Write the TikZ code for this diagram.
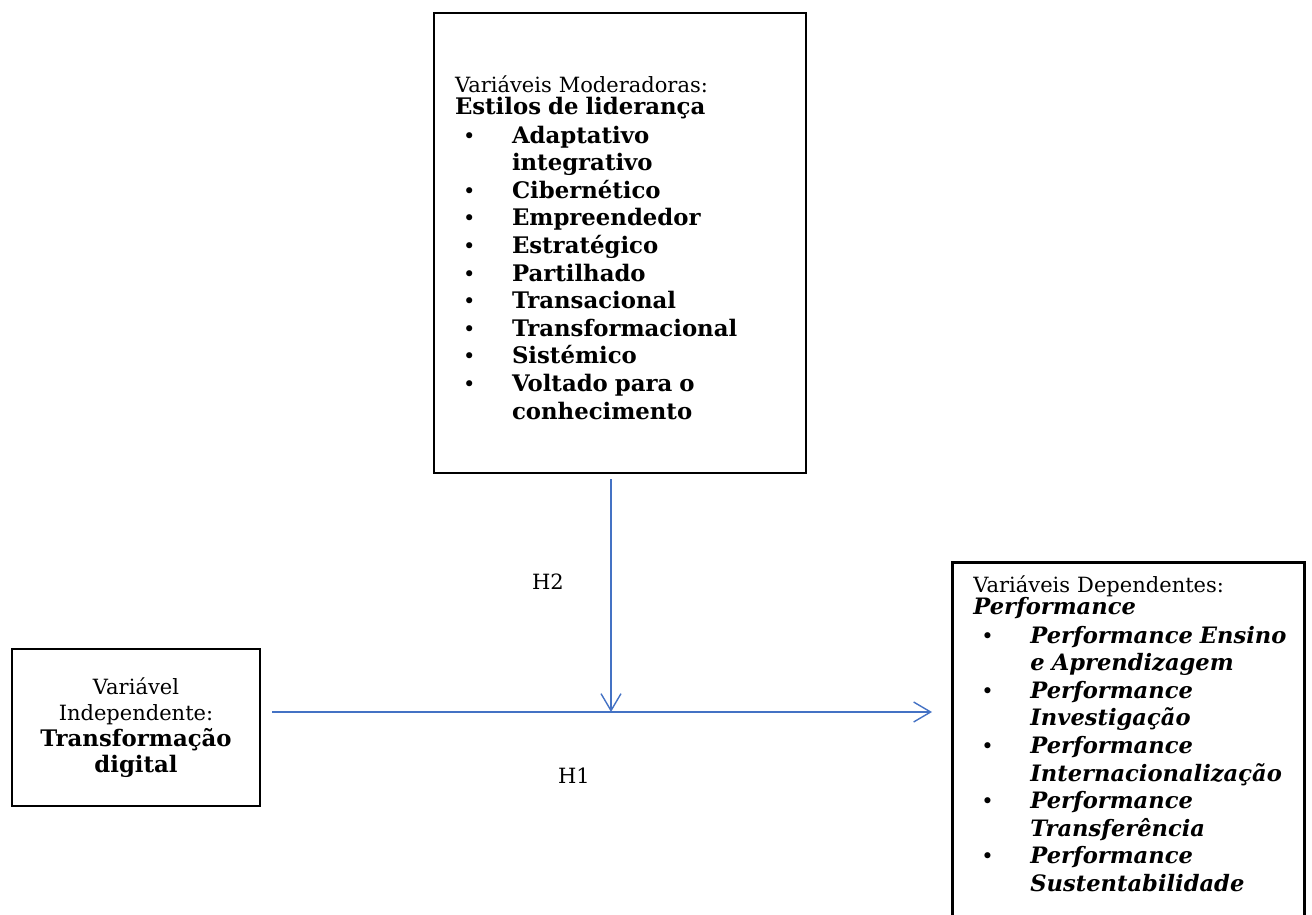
\documentclass[tikz,border=0pt]{standalone}
\usepackage{fontspec}
\setmainfont{DejaVu Serif}
\usetikzlibrary{arrows.meta}

\definecolor{arrowblue}{RGB}{68,114,196}
\newcommand{\itembul}{\makebox[28.5pt][l]{\hspace{4pt}\textbullet}}
\newcommand{\itemcont}{\hspace*{28.5pt}}
\newcommand{\strongtxt}[1]{\mbox{\fontsize{11.4pt}{13.8pt}\selectfont\bfseries #1}}
\newcommand{\strongit}[1]{\mbox{\fontsize{11.3pt}{13.8pt}\selectfont\bfseries\itshape #1}}

\begin{document}
\begin{tikzpicture}[x=0.5pt, y=-0.5pt]

  % Styles
  \tikzset{
    varbox/.style={draw=black, line width=1.4pt, inner xsep=10.5pt,
      font=\fontsize{10.5pt}{13.8pt}\selectfont},
    hyp arrow/.style={draw=arrowblue, line width=0.7pt,
      -{Straight Barb[length=8.5pt, width=10pt]}},
    hyp label/.style={font=\fontsize{10.5pt}{12pt}\selectfont}
  }

  % canvas (pixels of the figure)
  \clip (0,0) rectangle (1312,915);

  % --- MODERATOR (top) ---
  \node[varbox, minimum width=186pt, minimum height=230pt, text width=165pt, align=left] (mod) at (620,243) {
    \rule{0pt}{13pt}Variáveis Moderadoras:\\[-2.8pt]
    \strongtxt{Estilos de liderança}\\[0.5pt]
    \itembul\strongtxt{Adaptativo}\\
    \itemcont\strongtxt{integrativo}\\
    \itembul\strongtxt{Cibernético}\\
    \itembul\strongtxt{Empreendedor}\\
    \itembul\strongtxt{Estratégico}\\
    \itembul\strongtxt{Partilhado}\\
    \itembul\strongtxt{Transacional}\\
    \itembul\strongtxt{Transformacional}\\
    \itembul\strongtxt{Sistémico}\\
    \itembul\strongtxt{Voltado para o}\\
    \itemcont\strongtxt{conhecimento}
  };

  % --- INDEPENDENT (left) ---
  \node[varbox, minimum width=124pt, minimum height=78.5pt, text width=103pt, align=center,
    font=\fontsize{10.5pt}{13pt}\selectfont] (indep) at (136,727.5) {
    Variável\\
    Independente:\\
    \strongtxt{Transformação}\\
    \strongtxt{digital}
  };

  % --- DEPENDENT (right, runs off the page) ---
  \node[varbox, anchor=north west, text width=155pt, inner ysep=4pt, align=left] (dep) at (951,561) {
    \rule{0pt}{11pt}Variáveis Dependentes:\\[-2.8pt]
    \strongit{Performance}\\[0.5pt]
    \itembul\strongit{Performance Ensino}\\
    \itemcont\strongit{e Aprendizagem}\\
    \itembul\strongit{Performance}\\
    \itemcont\strongit{Investigação}\\
    \itembul\strongit{Performance}\\
    \itemcont\strongit{Internacionalização}\\
    \itembul\strongit{Performance}\\
    \itemcont\strongit{Transferência}\\
    \itembul\strongit{Performance}\\
    \itemcont\strongit{Sustentabilidade}\\[14pt]
    ~
  };

  % --- HYPOTHESES ---
  \coordinate (hit) at (611,712);
  \draw[hyp arrow, shorten <=2.5pt] (mod.south -| hit) -- (hit);
  \draw[hyp arrow, shorten <=5.5pt, shorten >=9.5pt] (indep.east |- hit) -- (dep.west |- hit);

  \node[hyp label] (h2) at (548,582) {H2};
  \node[hyp label] (h1) at (574,776) {H1};

\end{tikzpicture}
\end{document}
